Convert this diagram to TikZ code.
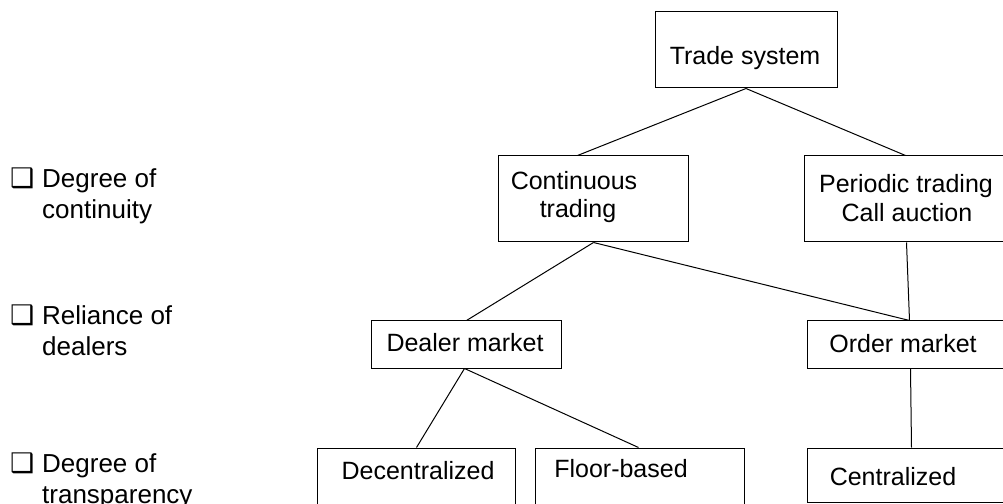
\documentclass[tikz,border=0pt]{standalone}
\usepackage{fontspec}
\setmainfont{Liberation Sans}
\newfontfamily\dejavu{DejaVu Sans}
\begin{document}
\begin{tikzpicture}[x=1bp,y=-1bp,
  box/.style={draw, line width=1bp, rectangle, inner sep=0pt},
  txt/.style={anchor=base, inner sep=0pt, font=\fontsize{25bp}{30bp}\selectfont},
  lbl/.style={anchor=base west, inner sep=0pt, font=\fontsize{26bp}{31bp}\selectfont},
  bul/.style={anchor=base west, inner sep=0pt, font=\dejavu\fontsize{27bp}{30bp}\selectfont},
  link/.style={line width=1bp}]
\useasboundingbox (0,0) rectangle (1003,504);
\clip (0,0) rectangle (1003,504);
\fill[white] (0,0) rectangle (1003,504);

% boxes
\node[box, minimum width=182bp, minimum height=76bp] (trade) at (746,50) {};
\node[box, minimum width=190bp, minimum height=86bp] (cont) at (593,199) {};
\node[box, minimum width=206bp, minimum height=86bp] (per) at (907,199) {};
\node[box, minimum width=190bp, minimum height=47bp] (deal) at (466,344.5) {};
\node[box, minimum width=203bp, minimum height=47bp] (ord) at (908.5,344.5) {};
\node[box, minimum width=198bp, minimum height=82bp] (dec) at (416,489) {};
\node[box, minimum width=209bp, minimum height=82bp] (flo) at (639.5,489) {};
\node[box, minimum width=203bp, minimum height=54bp] (cen) at (908.5,475) {};

% box texts
\node[txt] (tTrade) at (745,65) {Trade system};
\node[txt] (tCont1) at (574,190) {Continuous};
\node[txt] (tCont2) at (578,218) {trading};
\node[txt] (tPer1) at (906,193) {Periodic trading};
\node[txt] (tPer2) at (907,222) {Call auction};
\node[txt] (tDeal) at (465,352) {Dealer market};
\node[txt] (tOrd) at (903,353) {Order market};
\node[txt] (tDec) at (418,479) {Decentralized};
\node[txt] (tFlo) at (621,477) {Floor-based};
\node[txt] (tCen) at (893,485) {Centralized};

% connectors
\draw[link] (trade.south) -- ([xshift=80bp]cont.north west);
\draw[link] (trade.south) -- ([xshift=102bp]per.north west);
\draw[link] ([xshift=96bp]cont.south west) -- ([xshift=96bp]deal.north west);
\draw[link] ([xshift=96bp]cont.south west) -- ([xshift=103bp]ord.north west);
\draw[link] ([xshift=103bp]per.south west) -- ([xshift=103bp]ord.north west);
\draw[link] ([xshift=94bp]deal.south west) -- ([xshift=100bp]dec.north west);
\draw[link] ([xshift=94bp]deal.south west) -- ([xshift=104bp]flo.north west);
\draw[link] ([xshift=104bp]ord.south west) -- ([xshift=105bp]cen.north west);

% left labels
\node[bul] (b1) at (10,188) {❑};
\node[lbl] (l1a) at (42,188) {Degree of};
\node[lbl] (l1b) at (42,219) {continuity};
\node[bul] (b2) at (10,325) {❑};
\node[lbl] (l2a) at (42,325) {Reliance of};
\node[lbl] (l2b) at (42,356) {dealers};
\node[bul] (b3) at (10,472) {❑};
\node[lbl] (l3a) at (42,472) {Degree of};
\node[lbl] (l3b) at (42,503) {transparency};
\end{tikzpicture}
\end{document}
